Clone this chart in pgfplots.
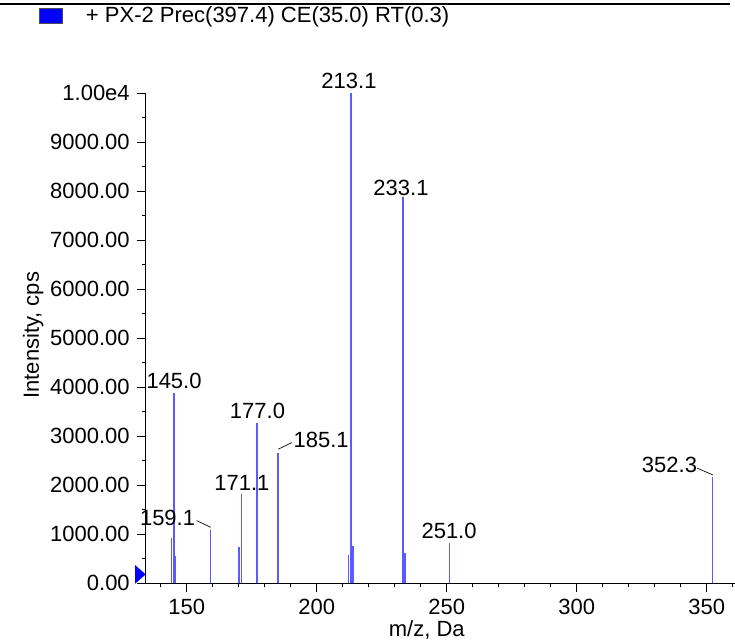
\documentclass[border=0pt]{standalone}
\usepackage{pgfplots}
\pgfplotsset{compat=1.18}
\usepackage{fontspec}
\setmainfont{Liberation Sans}
\definecolor{peakblue}{RGB}{90,90,255}
\definecolor{legblue}{RGB}{0,0,255}

\begin{document}
\fontsize{16.5}{19}\selectfont
\begin{tikzpicture}
\begin{axis}[
    name=ms,
    at={(0,0)}, anchor=south west,
    scale only axis,
    width=442pt, height=367.7pt,
    xmin=134.2, xmax=360.9,
    ymin=0, ymax=10000,
    axis lines=left,
    axis line style={-, black, line width=0.8pt},
    tick align=outside,
    major tick length=6.3pt,
    minor tick length=3pt,
    every tick/.style={black, line width=0.7pt},
    xtick={150,200,250,300,350},
    minor xtick={140,160,170,180,190,210,220,230,240,260,270,280,290,310,320,330,340,360},
    ytick={0,1000,2000,3000,4000,5000,6000,7000,8000,9000,10000},
    minor ytick={500,1500,2500,3500,4500,5500,6500,7500,8500,9500},
    yticklabels={0.00,1000.00,2000.00,3000.00,4000.00,5000.00,6000.00,7000.00,8000.00,9000.00,1.00e4},
    scaled y ticks=false,
    /pgf/number format/assume math mode=true,
    tick label style={font=\fontsize{16.5}{19}\selectfont},
    xlabel={m/z, Da},
    ylabel={Intensity, cps},
    label style={font=\fontsize{16.5}{19}\selectfont},
    xlabel style={at={(axis description cs:0.477,-0.095)}, anchor=center},
    ylabel style={at={(axis description cs:-0.191,0.506)}, anchor=center},
    clip=false,
]
% centroided peaks: m/z, intensity
\addplot[ycomb, draw=peakblue, line width=1.1pt, mark=none] coordinates {
    (144.1, 918) (145.0, 3890) (145.7, 557)
    (159.1, 1088)
    (170.1, 747) (171.1, 1816)
    (177.0, 3265)
    (185.1, 2666)
    (212.2, 578) (213.1, 10000) (214.0, 761)
    (233.1, 7884) (233.9, 612)
    (251.0, 816)
    (352.3, 2163)
};

% peak labels
\node at (axis cs:212.4,10251) {213.1};
\node at (axis cs:232.4,8067) {233.1};
\node at (axis cs:145.1,4129) {145.0};
\node at (axis cs:177.2,3516) {177.0};
\node at (axis cs:201.7,2924) {185.1};
\draw[black, line width=0.5pt] (axis cs:185.2,2735) -- (axis cs:190.4,2869);
\node at (axis cs:171.2,2057) {171.1};
\node at (axis cs:142.6,1333) {159.1};
\draw[black, line width=0.5pt] (axis cs:153.8,1278) -- (axis cs:159.2,1143);
\node at (axis cs:250.9,1067) {251.0};
\node at (axis cs:335.7,2414) {352.3};
\draw[black, line width=0.5pt] (axis cs:346.4,2347) -- (axis cs:352.4,2210);

% zero marker on the y axis
\fill[legblue] (axis cs:134.2,100) ++(0pt,3pt) -- ++(-8pt,-7pt) -- ++(0pt,14pt) -- cycle;
\end{axis}

% legend strip and pane border
\draw[black, line width=0.9pt] (-109.3pt,434.5pt) -- (438.2pt,434.5pt);
\filldraw[fill=legblue, draw=black!70, line width=0.4pt] (-80pt,420pt) rectangle (-62.5pt,431pt);
\node[anchor=west, inner sep=0pt] at (-45pt,425pt) {+ PX-2 Prec(397.4) CE(35.0) RT(0.3)};

\pgfresetboundingbox
\path (-109.3pt,-43.3pt) rectangle (442pt,437.5pt);
\end{tikzpicture}
\end{document}
